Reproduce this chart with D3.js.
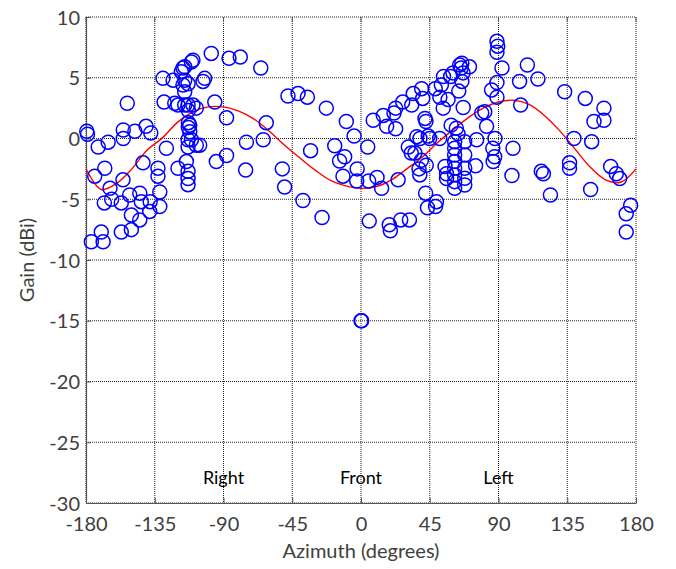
<!DOCTYPE html>
<html>
<head>
<meta charset="utf-8">
<script src="https://cdn.jsdelivr.net/npm/d3@7"></script>
<style>
  body { margin: 0; background: #fff; }
  text { font-family: Lato, "Open Sans", sans-serif; }
</style>
</head>
<body>
<script>
var width = 676, height = 569;
var margin = {top: 17, right: 40, bottom: 66, left: 86};

// x ticks / y ticks
var xTicks = [-180, -135, -90, -45, 0, 45, 90, 135, 180];
var yTicks = [10, 5, 0, -5, -10, -15, -20, -25, -30];

// measured gain samples: [azimuth deg, gain dBi]
var points = [
  [-179.5, 0.6], [-179, 0.35], [-176.5, -8.5], [-170, -7.7], [-168.8, -8.5], [-174.3, -3.1],
  [-172, -0.7], [-167.7, -2.45], [-165.5, -0.3], [-168, -5.3], [-164.3, -4.1], [-163.2, -5.0],
  [-155.6, 0.7], [-155.6, 0], [-153, 2.9], [-148, 0.6], [-155.8, -3.4], [-156.9, -5.3],
  [-151.4, -4.65], [-150.3, -6.3], [-150.3, -7.5], [-156.9, -7.7], [-144.8, -6.7], [-144.8, -4.5],
  [-143.8, -5.2], [-138.3, -6.0], [-138, -5.2], [-131.7, -5.6], [-131.7, -4.4], [-132.9, -3.1],
  [-132.9, -2.45], [-140.7, 1.0], [-137.6, 0.45], [-142.7, -2.0], [-127.4, -0.8],
  [-129.6, 4.95], [-128.9, 3.0], [-123, 4.8], [-121.9, 2.9], [-119.8, -2.45], [-117.6, 5.5],
  [-116.5, 5.8], [-115.4, 5.9], [-111, 6.3], [-110, 6.45], [-115.4, 4.8], [-116.5, 4.4],
  [-113.2, 4.5], [-103.4, 4.7], [-102.3, 4.95], [-115.4, 3.85], [-115.4, 2.75], [-113.2, 2.75],
  [-110, 2.75], [-107.8, 2.5], [-119.8, 2.75], [-113, 2.3], [-113, 1.3], [-112.1, 1.1],
  [-113, 0.9], [-112.1, 0.55], [-111, -0.1], [-113.2, -0.1], [-113.2, -0.7], [-107.8, -0.55],
  [-105.6, -0.55], [-114.3, -1.9], [-113.2, -2.7], [-113.2, -3.3], [-113.2, -3.8],
  [-98, 7.0], [-95.7, 3.0], [-94.7, -1.9], [-86.4, 6.6], [-79, 6.7], [-65.6, 5.8], [-88, 1.7],
  [-88, -1.4], [-75.5, -2.6], [-75, -0.3], [-62, 1.3], [-64, -0.1],
  [-51.5, -2.5], [-50, -4.0], [-47.8, 3.5], [-41.2, 3.7], [-35.1, 3.4], [-38, -5.1],
  [-25.5, -6.5], [-33, -1.0], [-22.7, 2.5], [-17.2, -0.6], [-14, -1.85], [-10.7, -1.5],
  [-11.8, -3.1], [-9.6, 1.4], [-4.5, 0.2], [-2.5, -2.5], [-2.8, -3.5],
  [0, -15], [0.4, -15],
  [4.4, -0.7], [5, -3.5], [10.5, -3.2], [13.5, -4.1], [24.3, -3.4], [5.4, -6.8], [18.5, -7.1],
  [19.2, -7.6], [26, -6.7], [31.7, -6.7], [42.3, -4.5], [43.5, -5.7], [49.4, -5.2], [48.8, -5.6],
  [8, 1.5], [14.6, 1.9], [16.8, 1.0], [22.7, 0.8], [21.6, 2.1], [22.7, 2.5], [27.3, 3.0],
  [33.2, 2.75], [34.2, 3.7], [39.7, 4.1], [40.4, 3.3], [41.9, 1.65], [42.5, 1.4], [36.5, 0.15],
  [38.6, 0], [44, 0.2], [31, -0.7], [32.9, -1.2], [35.3, -1.2], [38, -2.5], [39.5, -1.8],
  [42.7, -2.2], [38.5, -3.0], [45, 0], [51.5, 0],
  [48.6, 4.1], [51.6, 3.4], [52.6, 4.4], [54, 5.1], [58.7, 5.1], [60.2, 5.4], [64.6, 6.05],
  [65.6, 5.8], [66, 6.2], [71, 5.9], [66.8, 5.4], [66, 4.7], [64, 3.9], [57, 3.2], [53.8, 2.5],
  [66.9, 2.55], [59, 1.1], [62.4, 0.85], [63.5, 0.4],
  [61.3, -0.26], [61.3, -0.8], [61.3, -1.36], [61.3, -1.9], [61.3, -2.45], [61.3, -3.0],
  [61.3, -3.55], [61.3, -4.1], [67.9, -0.26], [67.9, -1.36], [67.9, -2.45], [67.9, -3.28],
  [67.9, -3.83], [56, -2.9], [56, -3.3], [55, -2.3],
  [79, 2.1], [82.2, 1.0], [75.7, -0.1], [87.7, 0], [86.3, -0.8], [86.5, -1.9], [75, -2.25],
  [87.5, -1.5], [89, 8.0], [89.5, 7.6], [89, 7.1], [92.3, 5.8], [89, 4.6], [85.5, 4.0], [89, 3.4],
  [81, 2.2], [103.8, 4.7], [108.9, 6.05], [115.8, 4.9], [104.5, 2.75], [133.3, 3.85],
  [146.8, 3.3], [159, 2.5], [152.5, 1.4], [159, 1.5], [139.4, 0], [151, -0.26], [99.5, -0.8],
  [98.8, -3.05], [118, -2.7], [119.4, -2.9], [124, -4.65], [136.5, -2.0], [136.5, -2.45],
  [150.3, -4.2], [163.4, -2.3], [167.1, -2.9], [169.3, -3.3], [176.5, -5.5], [173.6, -6.2],
  [173.6, -7.7]
];

// fitted curve (red), every 10 deg
var fitAz = [-180, -170, -160, -150, -140, -130, -120, -110, -100, -90, -80, -70, -60, -50, -40,
  -30, -20, -10, 0, 10, 20, 30, 40, 50, 60, 70, 80, 90, 100, 110, 120, 130, 140, 150, 160, 170, 180];
var fitGain = [-2.5, -4.2, -3.7, -2.5, -0.95, 0.05, 1.35, 2.2, 2.6, 2.6, 2.25, 1.6, 0.6, -0.55, -1.6,
  -2.6, -3.45, -3.9, -4.1, -3.95, -3.4, -2.5, -1.55, -0.35, 0.7, 1.7, 2.5, 3.0, 3.15, 2.8, 1.9,
  0.65, -0.85, -2.35, -3.4, -3.6, -2.5];

var labels = ["Right", "Front", "Left"];
var labelAz = [-90, 0, 90];

var x = d3.scaleLinear().domain([-180, 180]).range([margin.left, width - margin.right]);
var y = d3.scaleLinear().domain([-30, 10]).range([height - margin.bottom, margin.top]);

var svg = d3.select("body").append("svg")
    .attr("width", width)
    .attr("height", height);

var x0 = x.range()[0], x1 = x.range()[1], y0 = y.range()[0], y1 = y.range()[1];

// grid
svg.append("g").selectAll("line")
    .data(xTicks)
  .enter().append("line")
    .attr("x1", function(d){ return x(d); })
    .attr("x2", function(d){ return x(d); })
    .attr("y1", y1).attr("y2", y0)
    .attr("stroke", "#222")
    .attr("stroke-dasharray", "1,1");

svg.append("g").selectAll("line")
    .data(yTicks)
  .enter().append("line")
    .attr("y1", function(d){ return y(d); })
    .attr("y2", function(d){ return y(d); })
    .attr("x1", x0).attr("x2", x1)
    .attr("stroke", "#222")
    .attr("stroke-dasharray", "1,1");

// axes (plain hyphen minus like the original)
var fmt = function(d){ return String(d); };
var xAxis = svg.append("g")
    .attr("transform", "translate(0," + y0 + ")")
    .call(d3.axisBottom(x).tickValues(xTicks).tickFormat(fmt).tickSizeInner(-5).tickSizeOuter(0).tickPadding(10));
var yAxis = svg.append("g")
    .attr("transform", "translate(" + x0 + ",0)")
    .call(d3.axisLeft(y).tickValues(yTicks).tickFormat(fmt).tickSizeInner(-5).tickSizeOuter(0).tickPadding(6));

[xAxis, yAxis].forEach(function(a){
  a.select(".domain").attr("stroke", "#555").attr("stroke-width", 1.2);
  a.selectAll(".tick line").attr("stroke", "#555");
  a.selectAll(".tick text")
      .attr("fill", "#404040")
      .style("font-size", "20px")
      .style("font-family", "Lato, sans-serif");
});
xAxis.selectAll(".tick text").attr("dy", "0.9em");
yAxis.selectAll(".tick text").attr("dy", "0.36em");

// top ticks
svg.append("g").selectAll("line")
    .data(xTicks)
  .enter().append("line")
    .attr("x1", function(d){ return x(d); })
    .attr("x2", function(d){ return x(d); })
    .attr("y1", y1).attr("y2", y1 + 5)
    .attr("stroke", "#555");

// labels in the plot
svg.append("g").selectAll("text")
    .data(labels)
  .enter().append("text")
    .attr("x", function(d, i){ return x(labelAz[i]); })
    .attr("y", y(-27.9))
    .attr("text-anchor", "middle")
    .attr("dy", "0.35em")
    .style("font-size", "18px")
    .attr("fill", "#000")
    .text(function(d){ return d; });

// fit line
var line = d3.line()
    .x(function(d){ return x(d[0]); })
    .y(function(d){ return y(d[1]); })
    .curve(d3.curveCatmullRom);

svg.append("path")
    .datum(fitAz.map(function(a, i){ return [a, fitGain[i]]; }))
    .attr("d", line)
    .attr("fill", "none")
    .attr("stroke", "#ff0000")
    .attr("stroke-width", 1.4);

// circles
svg.append("g").selectAll("circle")
    .data(points)
  .enter().append("circle")
    .attr("cx", function(d){ return x(d[0]); })
    .attr("cy", function(d){ return y(d[1]); })
    .attr("r", 7)
    .attr("fill", "none")
    .attr("stroke", "#0000ff")
    .attr("stroke-width", 1.5);

// axis titles
svg.append("text")
    .attr("x", (x0 + x1) / 2)
    .attr("y", 558)
    .attr("text-anchor", "middle")
    .attr("fill", "#404040")
    .style("font-size", "20px")
    .text("Azimuth (degrees)");

svg.append("text")
    .attr("transform", "translate(34," + ((y0 + y1) / 2) + ")rotate(-90)")
    .attr("text-anchor", "middle")
    .attr("fill", "#404040")
    .style("font-size", "20px")
    .text("Gain (dBi)");
</script>
</body>
</html>
